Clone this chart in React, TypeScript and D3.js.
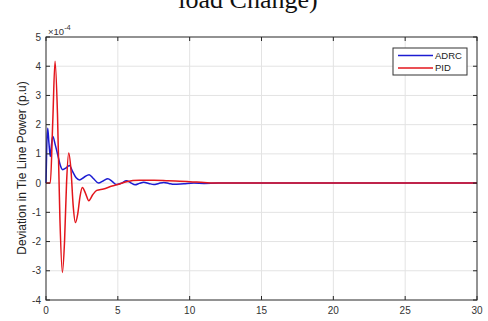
import React, { useEffect, useRef } from 'react';
import * as d3 from 'd3';

// time (s) and deviation (x 1e-4 p.u.)
const pidTime = [0, 0.3, 0.47, 0.63, 0.8, 0.97, 1.14, 1.29, 1.43, 1.58, 1.74, 1.89, 2.05, 2.21, 2.37, 2.53, 2.75, 2.98, 3.25, 3.53, 4.0, 4.6, 5.0, 5.6, 6.5, 7.5, 8.5, 10, 11, 12, 15, 30];
const pidValues = [0, 0, 2.1, 4.17, 2.35, -1.25, -3.06, -2.0, 0.0, 1.03, 0.44, -0.76, -1.35, -1.05, -0.45, -0.15, -0.35, -0.6, -0.4, -0.25, -0.2, -0.1, -0.05, 0.05, 0.1, 0.1, 0.08, 0.05, 0.02, 0, 0, 0];

const adrcTime = [0, 0.05, 0.12, 0.2, 0.3, 0.38, 0.47, 0.65, 0.85, 1.0, 1.16, 1.4, 1.63, 1.85, 2.1, 2.33, 2.65, 3.0, 3.3, 3.65, 4.0, 4.3, 4.6, 4.9, 5.25, 5.6, 5.9, 6.2, 6.5, 6.8, 7.15, 7.5, 7.85, 8.2, 8.55, 8.9, 9.6, 10.3, 11, 12, 30];
const adrcValues = [0, 1.2, 1.88, 1.4, 0.91, 1.3, 1.6, 1.3, 0.9, 0.6, 0.46, 0.52, 0.6, 0.4, 0.18, 0.11, 0.2, 0.29, 0.16, 0.0, 0.08, 0.15, 0.06, -0.05, 0.0, 0.08, 0.01, -0.06, -0.01, 0.03, -0.01, -0.05, -0.01, 0.02, -0.01, -0.04, -0.02, 0.0, -0.01, 0, 0];

const xTicks = [0, 5, 10, 15, 20, 25, 30];
const yTicks = [-4, -3, -2, -1, 0, 1, 2, 3, 4, 5];
const seriesNames = ['ADRC', 'PID'];
const seriesColors = ['#1c1cd2', '#e3161c'];

const App = () => {
  const chartRef = useRef<SVGSVGElement>(null);

  useEffect(() => {
    const width = 488;
    const height = 321;
    const margin = { left: 46, right: 11, top: 37, bottom: 21 };
    const font = 'Liberation Sans, Arial, sans-serif';
    const axisColor = '#262626';

    const svg = d3.select(chartRef.current);
    svg.selectAll('*').remove();

    const x = d3.scaleLinear().domain([0, 30]).range([margin.left, width - margin.right]);
    const y = d3.scaleLinear().domain([-4, 5]).range([height - margin.bottom, margin.top]);

    // title fragment, cut at the top as in the source figure
    svg
      .append('text')
      .attr('x', 248)
      .attr('y', 7.5)
      .attr('text-anchor', 'middle')
      .style('font-family', 'Liberation Serif, Times New Roman, serif')
      .style('font-size', '26px')
      .attr('fill', '#111')
      .text('load Change)');

    // grid
    const grid = svg.append('g').attr('stroke', '#e3e3e3').attr('stroke-width', 1);
    xTicks.slice(1, -1).forEach((t) => {
      grid.append('line').attr('x1', x(t)).attr('x2', x(t)).attr('y1', y(5)).attr('y2', y(-4));
    });
    yTicks.slice(1, -1).forEach((t) => {
      grid.append('line').attr('x1', x(0)).attr('x2', x(30)).attr('y1', y(t)).attr('y2', y(t));
    });

    // lines
    const line = d3
      .line<[number, number]>()
      .x((d) => x(d[0]))
      .y((d) => y(d[1]))
      .curve(d3.curveMonotoneX);

    const adrc = adrcTime.map((t, i) => [t, adrcValues[i]] as [number, number]);
    const pid = pidTime.map((t, i) => [t, pidValues[i]] as [number, number]);

    svg.append('path').attr('d', line(adrc)).attr('fill', 'none').attr('stroke', seriesColors[0]).attr('stroke-width', 1.5);
    svg.append('path').attr('d', line(pid)).attr('fill', 'none').attr('stroke', seriesColors[1]).attr('stroke-width', 1.5);

    // frame
    svg
      .append('rect')
      .attr('x', x(0))
      .attr('y', y(5))
      .attr('width', x(30) - x(0))
      .attr('height', y(-4) - y(5))
      .attr('fill', 'none')
      .attr('stroke', axisColor)
      .attr('stroke-width', 1);

    const ticks = svg.append('g').attr('stroke', axisColor).attr('stroke-width', 1);
    xTicks.forEach((t) => {
      ticks.append('line').attr('x1', x(t)).attr('x2', x(t)).attr('y1', y(-4)).attr('y2', y(-4) - 4);
      ticks.append('line').attr('x1', x(t)).attr('x2', x(t)).attr('y1', y(5)).attr('y2', y(5) + 4);
    });
    yTicks.forEach((t) => {
      ticks.append('line').attr('x1', x(0)).attr('x2', x(0) + 4).attr('y1', y(t)).attr('y2', y(t));
      ticks.append('line').attr('x1', x(30)).attr('x2', x(30) - 4).attr('y1', y(t)).attr('y2', y(t));
    });

    // tick labels
    svg
      .append('g')
      .selectAll('text')
      .data(xTicks)
      .enter()
      .append('text')
      .attr('x', (d) => x(d))
      .attr('y', y(-4) + 14)
      .attr('text-anchor', 'middle')
      .style('font-family', font)
      .style('font-size', '10px')
      .attr('fill', '#333')
      .text((d) => d);

    svg
      .append('g')
      .selectAll('text')
      .data(yTicks)
      .enter()
      .append('text')
      .attr('x', x(0) - 5)
      .attr('y', (d) => y(d))
      .attr('dy', '0.35em')
      .attr('text-anchor', 'end')
      .style('font-family', font)
      .style('font-size', '10px')
      .attr('fill', '#333')
      .text((d) => d);

    // exponent
    const exp = svg
      .append('text')
      .attr('x', x(0) + 2)
      .attr('y', y(5) - 2)
      .style('font-family', font)
      .style('font-size', '9.5px')
      .attr('fill', '#333');
    exp.append('tspan').text('\u00d710');
    exp.append('tspan').attr('dy', -5).style('font-size', '7.5px').text('-4');

    // y label
    svg
      .append('text')
      .attr('transform', `translate(26,168) rotate(-90)`)
      .attr('text-anchor', 'middle')
      .style('font-family', font)
      .style('font-size', '12px')
      .attr('fill', '#222')
      .text('Deviation in Tie Line Power (p.u)');

    // legend
    const legend = svg.append('g').attr('transform', 'translate(393,48)');
    legend
      .append('rect')
      .attr('width', 74)
      .attr('height', 27)
      .attr('fill', '#fff')
      .attr('stroke', '#333')
      .attr('stroke-width', 1);
    seriesNames.forEach((name, i) => {
      const ly = 7.5 + i * 12.5;
      legend
        .append('line')
        .attr('x1', 5)
        .attr('x2', 40)
        .attr('y1', ly)
        .attr('y2', ly)
        .attr('stroke', seriesColors[i])
        .attr('stroke-width', 1.5);
      legend
        .append('text')
        .attr('x', 42)
        .attr('y', ly)
        .attr('dy', '0.35em')
        .style('font-family', font)
        .style('font-size', '9.5px')
        .attr('fill', '#222')
        .text(name);
    });
  }, []);

  return (
    <svg
      ref={chartRef}
      width={488}
      height={321}
      style={{ position: 'absolute', left: 0, top: 0, background: '#fff' }}
    />
  );
};

export default App;
